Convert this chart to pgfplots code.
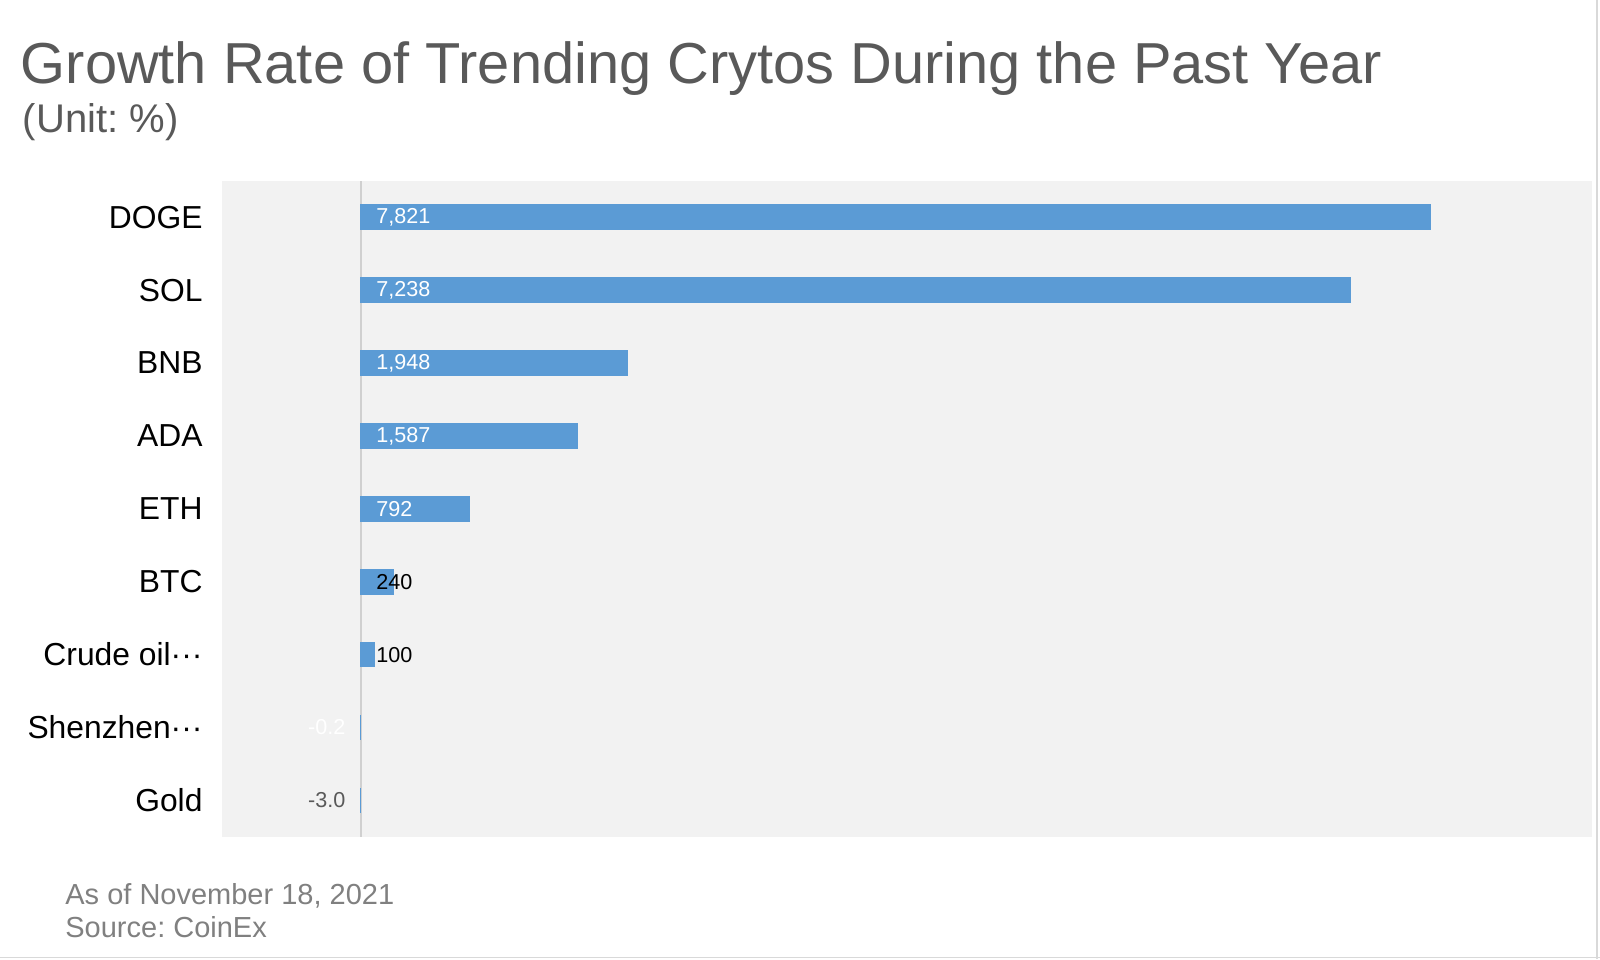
\documentclass[border=0pt]{standalone}
\usepackage{pgfplots}
\pgfplotsset{compat=1.18}
\usepackage{pgfplotstable}
\usepackage{fontspec}
\setmainfont{Liberation Sans}
\frenchspacing
\definecolor{barblue}{HTML}{5B9BD5}
\definecolor{bggray}{HTML}{F2F2F2}
\definecolor{titlegray}{HTML}{595959}
\definecolor{footgray}{HTML}{808080}
\definecolor{zerogray}{HTML}{D0D0D0}
\definecolor{framegray}{HTML}{D9D9D9}

\pgfplotstableread{
y val
0 -3.0
1 -0.2
2 100
3 240
4 792
5 1587
6 1948
7 7238
8 7821
}\bars

\pgfplotstableread{
x y label
110 8 7,821
110 7 7,238
110 6 1,948
110 5 1,587
110 4 792
}\whitelabels

\pgfplotstableread{
x y label
110 3 240
110 2 100
}\blacklabels

\pgfplotstableread{
x y label
-110 0 -3.0
}\graylabels

\pgfplotstableread{
x y label
-110 1 -0.2
}\faintlabels

\begin{document}
\begin{tikzpicture}
\path[use as bounding box] (0,0) rectangle (800pt,479.5pt);
\draw[framegray, line width=0.8pt] (0,0.75pt) -- (800pt,0.75pt);
\draw[framegray, line width=0.8pt] (798.5pt,0) -- (798.5pt,479.5pt);

\node[anchor=base west, inner sep=0pt, text=titlegray, font=\fontsize{28.9}{34}\selectfont] at (10.2pt,437.6pt) {Growth Rate of Trending Crytos During the Past Year};
\node[anchor=base west, inner sep=0pt, text=titlegray, font=\fontsize{20}{24}\selectfont] at (11.2pt,413.2pt) {(Unit: \%)};
\node[anchor=base west, inner sep=0pt, text=footgray, font=\fontsize{14.5}{17}\selectfont] at (32.5pt,27.5pt) {As of November 18, 2021};
\node[anchor=base west, inner sep=0pt, text=footgray, font=\fontsize{14.5}{17}\selectfont] at (32.5pt,11pt) {Source: CoinEx};

\begin{axis}[
  at={(111.25pt,61.1pt)}, anchor=south west,
  scale only axis, width=684.5pt, height=328pt,
  xmin=-1012, xmax=9000, ymin=-0.5, ymax=8.5,
  enlargelimits=false,
  axis background/.style={fill=bggray},
  axis line style={draw=none},
  xtick=\empty,
  ytick={0,...,8},
  yticklabels={Gold, Shenzhen···, Crude oil···, BTC, ETH, ADA, BNB, SOL, DOGE},
  major tick length=0pt,
  yticklabel style={font=\fontsize{15.9}{19}\selectfont, text=black, anchor=east, inner sep=0pt, xshift=-9.8pt},
  clip=false,
]
\addplot[zerogray, line width=1pt] coordinates {(0,-0.5) (0,8.5)};
\addplot[xbar, bar shift=0pt, bar width=12.25pt, fill=barblue, draw=barblue, line width=0.6pt] table[x=val, y=y] {\bars};
\addplot[draw=none, mark=none, nodes near coords, point meta=explicit symbolic,
  every node near coord/.append style={anchor=west, inner sep=0pt, text=white, font=\fontsize{10.8}{12}\selectfont}]
  table[x=x, y=y, meta=label] {\whitelabels};
\addplot[draw=none, mark=none, nodes near coords, point meta=explicit symbolic,
  every node near coord/.append style={anchor=west, inner sep=0pt, text=black, font=\fontsize{10.8}{12}\selectfont}]
  table[x=x, y=y, meta=label] {\blacklabels};
\addplot[draw=none, mark=none, nodes near coords, point meta=explicit symbolic,
  every node near coord/.append style={anchor=east, inner sep=0pt, text=titlegray, font=\fontsize{10.8}{12}\selectfont}]
  table[x=x, y=y, meta=label] {\graylabels};
\addplot[draw=none, mark=none, nodes near coords, point meta=explicit symbolic,
  every node near coord/.append style={anchor=east, inner sep=0pt, text=white, font=\fontsize{10.8}{12}\selectfont}]
  table[x=x, y=y, meta=label] {\faintlabels};
\end{axis}
\end{tikzpicture}
\end{document}
